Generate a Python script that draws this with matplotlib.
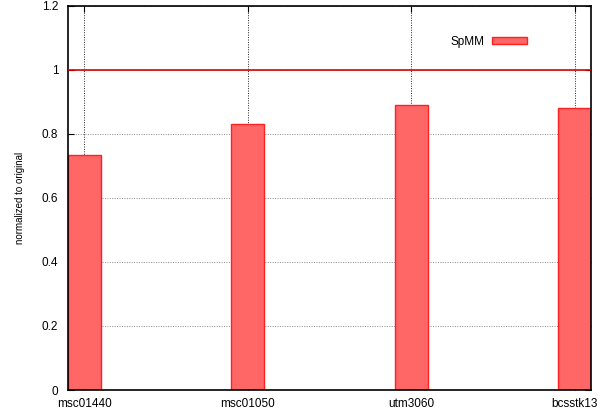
import numpy as np
import matplotlib
matplotlib.use('Agg')
import matplotlib.pyplot as plt

plt.rcParams['font.family'] = ['Liberation Sans', 'DejaVu Sans']

# matrices and normalized SpMM values
matrices = ['msc01440', 'msc01050', 'utm3060', 'bcsstk13']
spmm = [0.734, 0.831, 0.892, 0.881]
yticks = [0, 0.2, 0.4, 0.6, 0.8, 1, 1.2]
ytick_labels = ['0', '0.2', '0.4', '0.6', '0.8', '1', '1.2']

fig = plt.figure(figsize=(6.09, 4.11), dpi=100)
ax = fig.add_axes([68 / 609, 1 - 390 / 411, (591 - 68) / 609, (390 - 6) / 411])

x = np.arange(len(matrices))
ax.bar(x, spmm, width=0.2, color='#ff6666', edgecolor='#ff2020',
       linewidth=1.0, label='SpMM', zorder=2)
ax.axhline(1.0, color='#e00000', linewidth=1.2, zorder=3)

ax.set_xlim(-0.1, 3.1)
ax.set_ylim(0, 1.2)
ax.set_xticks(x)
ax.set_xticklabels(matrices, fontsize=8.5)
ax.set_yticks(yticks)
ax.set_yticklabels(ytick_labels, fontsize=8.5)

ax.yaxis.grid(True, linestyle=(0, (1, 1.5)), color='#888888', linewidth=0.7, zorder=0)
ax.xaxis.grid(True, linestyle=(0, (1, 1.5)), color='#222222', linewidth=0.7, zorder=0)
ax.set_axisbelow(True)

ax.tick_params(direction='in', length=4, width=0.8, top=True, right=True,
               colors='black')
ax.tick_params(axis='x', pad=6)
ax.tick_params(axis='y', pad=7)
for s in ax.spines.values():
    s.set_linewidth(1.2)

ax.set_ylabel('normalized to original', fontsize=7, labelpad=12)

leg = ax.legend(loc='upper right', bbox_to_anchor=(0.897, 0.95), frameon=False,
                markerfirst=False, fontsize=8.5, handlelength=2.96, handleheight=0.6,
                handletextpad=0.6)

fig.savefig('out.png', dpi=100)
